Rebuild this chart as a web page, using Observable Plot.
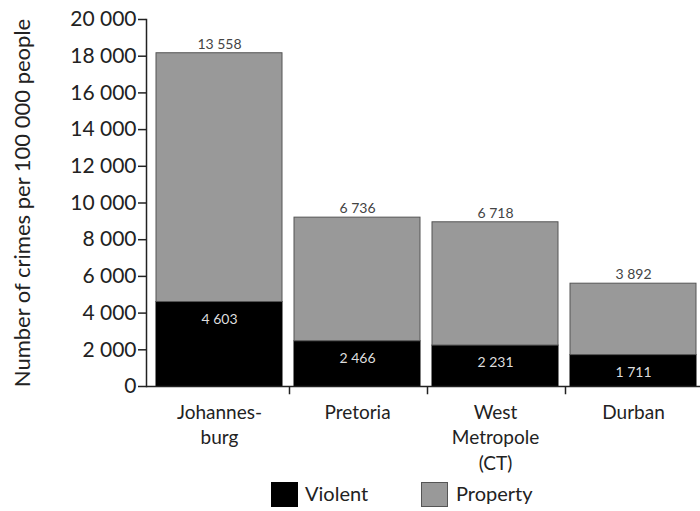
<!DOCTYPE html>
<html>
<head>
<meta charset="utf-8">
<script src="https://cdn.jsdelivr.net/npm/d3@7"></script>
<script src="https://cdn.jsdelivr.net/npm/@observablehq/plot@0.6"></script>
<style>
  body { margin: 0; background: #fff; font-family: Lato, "Open Sans", sans-serif; }
  #legend { position: relative; height: 33px; font-size: 20px; color: #222; }
  .sw { position: absolute; top: 4px; width: 27px; height: 25px; box-sizing: border-box; }
  .lb { position: absolute; top: 3px; }
</style>
</head>
<body>
<div id="chart"></div>
<div id="legend">
  <div class="sw" style="left:271px;background:#000;border:1px solid #000"></div>
  <div class="lb" style="left:305px">Violent</div>
  <div class="sw" style="left:421px;background:#999;border:1px solid #555"></div>
  <div class="lb" style="left:456px">Property</div>
</div>
<script>
const cities = ["Johannesburg", "Pretoria", "West Metropole (CT)", "Durban"];
const cityLabels = ["Johannes-\nburg", "Pretoria", "West\nMetropole\n(CT)", "Durban"];
const violent = [4603, 2466, 2231, 1711];
const property = [13558, 6736, 6718, 3892];
const yTicks = [0, 2000, 4000, 6000, 8000, 10000, 12000, 14000, 16000, 18000, 20000];
const yLabel = "Number of crimes per 100 000 people";

const fmt = d3.formatLocale({decimal: ".", thousands: " ", grouping: [3], currency: ["", ""]}).format(",d");

const rows = [];
cities.forEach((c, i) => {
  rows.push({city: c, type: "Violent", value: violent[i]});
  rows.push({city: c, type: "Property", value: property[i]});
});
const totals = cities.map((c, i) => ({city: c, total: violent[i] + property[i], property: property[i], violent: violent[i]}));

const W = 700, ML = 146, MR = -6;
const step = (W - ML - MR) / cities.length;

const chart = Plot.plot({
  width: W,
  height: 478,
  marginLeft: ML,
  marginRight: MR,
  marginTop: 19,
  marginBottom: 92,
  style: {fontFamily: "Lato, 'Open Sans', sans-serif", background: "#fff", color: "#222", overflow: "visible"},
  x: {domain: cities, paddingInner: 0.09, paddingOuter: 0.065},
  y: {domain: [0, 20000]},
  color: {domain: ["Violent", "Property"], range: ["#000", "#999"]},
  marks: [
    Plot.barY(rows, {x: "city", y: "value", fill: "type", stroke: d => d.type === "Violent" ? "#000" : "#555", strokeWidth: 1, order: ["Violent", "Property"]}),
    Plot.text(totals, {x: "city", y: "total", text: d => fmt(d.property), dy: -9, fill: "#444", fontSize: 14}),
    Plot.text(totals, {x: "city", y: "violent", text: d => fmt(d.violent), dy: 17, fill: "#ddd", fontSize: 14}),
    Plot.ruleY([0], {stroke: "#222", strokeWidth: 1.5}),
    Plot.frame({anchor: "left", stroke: "#222", strokeWidth: 1.5}),
    Plot.ruleX(cities.slice(0, 3), {x: d => d, y1: 0, y2: -450, dx: step / 2, stroke: "#222", strokeWidth: 1.5}),
    Plot.axisY({ticks: yTicks, tickFormat: fmt, tickSize: 8, tickPadding: 2, fontSize: 21, label: null, stroke: "#222", strokeWidth: 1.5}),
    Plot.text([yLabel], {text: d => d, frameAnchor: "left", textAnchor: "middle", rotate: -90, dx: -124, fontSize: 22, fill: "#222"}),
    Plot.axisX({tickSize: 0, tickPadding: 14, fontSize: 19, lineHeight: 1.35, tickFormat: (d) => cityLabels[cities.indexOf(d)], label: null})
  ]
});
document.getElementById("chart").appendChild(chart);
</script>
</body>
</html>
